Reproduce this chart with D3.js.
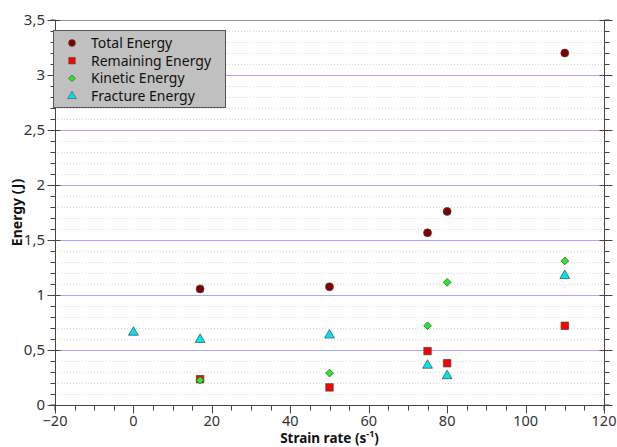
<!DOCTYPE html>
<html lang="en">
<head>
  <meta charset="UTF-8" />
  <title>Energy vs strain rate</title>
  <script src="https://d3js.org/d3.v7.min.js"></script>
  <style>
    body { margin: 0; background: #fff; }
    svg { font-family: 'Noto Sans', sans-serif; }
  </style>
</head>
<body>
  <svg id="chart" width="617" height="447"></svg>
  <script>
    // data
    const seriesNames = ["Total Energy", "Remaining Energy", "Kinetic Energy", "Fracture Energy"];
    const totalX = [17, 50, 75, 80, 110];
    const totalY = [1.055, 1.075, 1.565, 1.76, 3.2];
    const remainingX = [17, 50, 75, 80, 110];
    const remainingY = [0.235, 0.16, 0.49, 0.38, 0.72];
    const kineticX = [17, 50, 75, 80, 110];
    const kineticY = [0.225, 0.29, 0.72, 1.115, 1.31];
    const fractureX = [0, 17, 50, 75, 80, 110];
    const fractureY = [0.66, 0.595, 0.635, 0.36, 0.265, 1.175];
    const xTicks = [-20, 0, 20, 40, 60, 80, 100, 120];
    const yTicks = [0, 0.5, 1, 1.5, 2, 2.5, 3, 3.5];

    const svg = d3.select("#chart");
    const plotL = 55, plotR = 604, plotT = 20, plotB = 405;

    const x = d3.scaleLinear().domain([-20, 120]).range([plotL, plotR]);
    const y = d3.scaleLinear().domain([0, 3.5]).range([plotB, plotT]);
    const py = v => Math.round(y(v)) + 0.5;

    const fmt = v => String(v).replace(".", ",").replace("-", "\u2212");
    const tenths = d3.range(0, 36);

    // minor dotted grid
    svg.append("g").selectAll("line").data(tenths.filter(i => i % 5 !== 0)).join("line")
      .attr("x1", plotL).attr("x2", plotR)
      .attr("y1", i => py(i / 10)).attr("y2", i => py(i / 10))
      .attr("stroke", "#d8d8d8").attr("stroke-dasharray", "1,2");

    // major blue grid
    svg.append("g").selectAll("line").data(tenths.filter(i => i % 5 === 0 && i > 0 && i < 35)).join("line")
      .attr("x1", plotL).attr("x2", plotR)
      .attr("y1", i => py(i / 10)).attr("y2", i => py(i / 10))
      .attr("stroke", "#a8a8ff");

    // frame top
    svg.append("line").attr("x1", plotL).attr("x2", plotR).attr("y1", plotT + 0.5).attr("y2", plotT + 0.5)
      .attr("stroke", "#999");

    const axisColor = "#444";
    // left axis
    const yAxis = svg.append("g").attr("transform", `translate(${plotL + 0.5},0)`)
      .call(d3.axisLeft(y).tickValues(tenths.map(i => i / 10)).tickSize(5).tickFormat("").offset(0));
    yAxis.selectAll(".tick").attr("transform", d => `translate(0,${py(d)})`);
    yAxis.selectAll(".tick line").attr("x2", -5).attr("stroke", axisColor);
    yAxis.selectAll(".tick").filter(d => Math.round(d * 10) % 5 === 0).select("line")
      .attr("x1", 5).attr("x2", -8);
    yAxis.select(".domain").attr("stroke", axisColor);
    svg.append("g").selectAll("text").data(yTicks).join("text")
      .attr("x", plotL - 10).attr("y", d => y(d)).attr("dy", "0.35em")
      .attr("text-anchor", "end").attr("font-size", 15).attr("fill", "#333")
      .text(fmt);

    // right axis
    const yAxisR = svg.append("g").attr("transform", `translate(${plotR + 0.5},0)`)
      .call(d3.axisRight(y).tickValues(tenths.map(i => i / 10)).tickSize(5).tickFormat("").offset(0));
    yAxisR.selectAll(".tick").attr("transform", d => `translate(0,${py(d)})`);
    yAxisR.selectAll(".tick line").attr("stroke", axisColor);
    yAxisR.selectAll(".tick").filter(d => Math.round(d * 10) % 5 === 0).select("line")
      .attr("x1", -5).attr("x2", 8);
    yAxisR.select(".domain").attr("stroke", axisColor);

    // bottom axis
    const xAxis = svg.append("g").attr("transform", `translate(0,${plotB + 0.5})`)
      .call(d3.axisBottom(x).tickValues(d3.range(-20, 121, 5)).tickSize(5).tickFormat("").offset(0));
    xAxis.selectAll(".tick").attr("transform", d => `translate(${Math.round(x(d)) + 0.5},0)`);
    xAxis.selectAll(".tick line").attr("stroke", axisColor);
    xAxis.selectAll(".tick").filter(d => d % 20 === 0).select("line").attr("y2", 8);
    xAxis.select(".domain").attr("stroke", axisColor);
    svg.append("g").selectAll("text").data(xTicks).join("text")
      .attr("x", d => x(d)).attr("y", plotB + 21)
      .attr("text-anchor", "middle").attr("font-size", 14.5).attr("fill", "#333")
      .text(fmt);

    // axis titles
    svg.append("text").attr("transform", `translate(22,${(plotT + plotB) / 2}) rotate(-90)`)
      .attr("text-anchor", "middle").attr("font-size", 14).attr("font-weight", "bold").attr("fill", "#111")
      .text("Energy (J)");
    const xt = svg.append("text").attr("x", (plotL + plotR) / 2).attr("y", 443)
      .attr("text-anchor", "middle").attr("font-size", 13.5).attr("font-weight", "bold").attr("fill", "#111");
    xt.append("tspan").text("Strain rate (s");
    xt.append("tspan").attr("font-size", 9).attr("dy", -6).text("-1");
    xt.append("tspan").attr("dy", 6).text(")");

    // markers
    const symbols = [
      { type: d3.symbolCircle, size: 50, fill: "#800000", rot: 0 },
      { type: d3.symbolSquare, size: 56, fill: "#ff0000", rot: 0 },
      { type: d3.symbolSquare, size: 30, fill: "#22ee22", rot: 45 },
      { type: d3.symbolTriangle, size: 42, fill: "#00e5ee", rot: 0 }
    ];
    const series = [
      d3.zip(totalX, totalY), d3.zip(remainingX, remainingY),
      d3.zip(kineticX, kineticY), d3.zip(fractureX, fractureY)
    ];
    const drawOrder = [0, 3, 1, 2];
    drawOrder.forEach(i => {
      const s = symbols[i];
      svg.append("g").selectAll("path").data(series[i]).join("path")
        .attr("transform", d => `translate(${x(d[0])},${y(d[1])}) rotate(${s.rot})`)
        .attr("d", d3.symbol().type(s.type).size(s.size))
        .attr("fill", s.fill).attr("stroke", "#444").attr("stroke-width", 0.7);
    });

    // legend
    const lg = svg.append("g").attr("transform", "translate(53,30)");
    lg.append("rect").attr("x", 0.5).attr("y", 0.5).attr("width", 172).attr("height", 77)
      .attr("fill", "#c0c0c0").attr("stroke", "#555");
    seriesNames.forEach((name, i) => {
      const s = symbols[i];
      const row = lg.append("g").attr("transform", `translate(0,${13 + i * 17.7})`);
      row.append("path").attr("transform", `translate(19,0) rotate(${s.rot})`)
        .attr("d", d3.symbol().type(s.type).size(s.size * 0.75))
        .attr("fill", s.fill).attr("stroke", "#444").attr("stroke-width", 0.6);
      row.append("text").attr("x", 38).attr("dy", "0.35em")
        .attr("font-size", 14).attr("fill", "#111").text(name);
    });
  </script>
</body>
</html>
